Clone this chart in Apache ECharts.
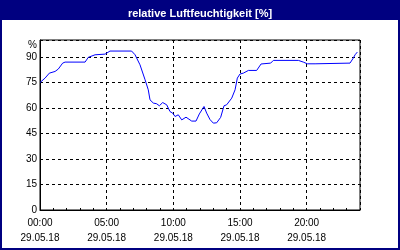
<!DOCTYPE html>
<html>
<head>
<meta charset="utf-8">
<script src="https://cdn.jsdelivr.net/npm/echarts@6/dist/echarts.min.js"></script>
<style>html,body{margin:0;padding:0;background:#fff}#c{width:400px;height:250px}</style>
</head>
<body>
<div id="c"></div>
<script>
const titleText = 'relative Luftfeuchtigkeit [%]';
const dateLabel = '29.05.18';
const hours = [0.00,0.38,0.70,1.13,1.37,1.70,1.88,3.38,3.62,4.13,4.88,5.25,6.87,7.13,7.50,7.88,8.12,8.25,8.50,8.75,8.95,9.20,9.50,9.75,9.95,10.13,10.37,10.63,10.95,11.38,11.70,11.95,12.30,12.50,12.75,13.00,13.25,13.55,13.80,14.00,14.38,14.63,14.80,15.00,15.25,15.63,16.25,16.58,17.30,17.50,19.38,19.75,20.05,20.63,20.70,23.25,23.50,23.63,23.80];
const humidity = [75,77.6,80.5,81.5,82.9,86.4,87,87,89.8,91.3,91.7,93.5,93.5,91.3,85.4,76.6,70.7,64.8,62.9,62.5,61.3,63.2,61.9,57.9,57,55,56,53,54.6,52.3,52.3,56.5,60.9,57,53.2,51.1,51.3,54.5,61.3,61.9,65.8,70.7,77.6,80,80.5,82.1,82.1,85.9,86.4,88,88,87,86,86,86.4,86.4,89.4,91.3,92.9];
const yTicks = [0,15,30,45,60,75,90];
const xLabelHours = [0,5,10,15,20];

const data = hours.map((h,i)=>[h, humidity[i]]);
const pad = n => (n<10?'0':'')+n;
const font = 'Liberation Sans';
const chart = echarts.init(document.getElementById('c'), null, {renderer:'canvas'});
chart.setOption({
  animation:false,
  backgroundColor:'#fff',
  title:{text:titleText, left:'center', top:3, textStyle:{color:'#fff', fontFamily:font, fontWeight:'bold', fontSize:11}},
  graphic:[
    {type:'rect', z:-1, shape:{x:0,y:0,width:400,height:20}, style:{fill:'#000080'}},
    {type:'rect', z:10, shape:{x:1,y:1,width:398,height:248}, style:{fill:'none', stroke:'#000080', lineWidth:2}}
  ],
  grid:{left:40, top:40, right:40, bottom:40, show:true, borderColor:'#000', borderWidth:1},
  xAxis:[{
    type:'value', min:0, max:24, interval:5,
    axisLine:{show:true, lineStyle:{color:'#000'}},
    axisTick:{show:false},
    axisLabel:{
      color:'#000', fontFamily:font, fontSize:10, lineHeight:15, margin:6,
      formatter:v => xLabelHours.indexOf(v)>=0 ? pad(v)+':00\n'+dateLabel : ''
    },
    splitLine:{show:true, lineStyle:{color:'#000', type:[3,3], width:1}}
  },{
    type:'value', min:0, max:24, interval:1, position:'bottom',
    axisLine:{show:false},
    axisTick:{show:true, inside:true, length:2, lineStyle:{color:'#000'}},
    axisLabel:{show:false},
    splitLine:{show:false}
  }],
  yAxis:{
    type:'value', min:0, max:100, interval:15,
    name:'%', nameLocation:'end', nameGap:-5,
    nameTextStyle:{color:'#000', fontFamily:font, fontSize:10, align:'right', verticalAlign:'middle', padding:[0,3,0,0]},
    axisLine:{show:true, lineStyle:{color:'#000'}},
    axisTick:{show:false},
    axisLabel:{color:'#000', fontFamily:font, fontSize:10, margin:3,
      formatter:v => yTicks.indexOf(v)>=0 ? String(v) : ''},
    splitLine:{show:true, lineStyle:{color:'#000', type:[3,3], width:1}}
  },
  series:[{
    type:'line', data:data, xAxisIndex:0, showSymbol:false, symbol:'none',
    lineStyle:{color:'#0000ff', width:1}, z:5
  }]
});
</script>
</body>
</html>
